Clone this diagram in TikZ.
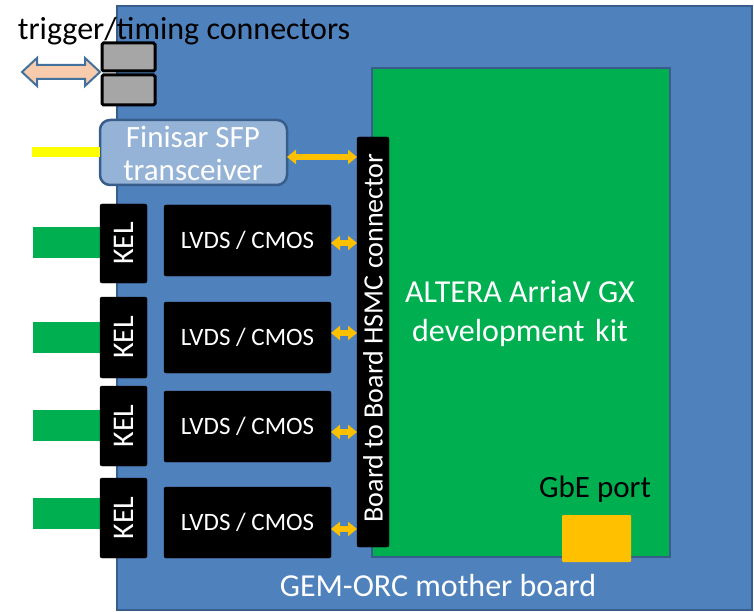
\documentclass[tikz,border=0pt]{standalone}
\usepackage{fontspec}
\setmainfont{Carlito}
\usetikzlibrary{arrows.meta,calc}
\definecolor{brdblue}{HTML}{4F81BD}
\definecolor{brdedge}{HTML}{385D8A}
\definecolor{kitgreen}{HTML}{00B050}
\definecolor{finfill}{HTML}{95B3D7}
\definecolor{peach}{HTML}{F8CBAD}
\definecolor{peachedge}{HTML}{41719C}
\definecolor{orng}{HTML}{FFC000}
\definecolor{yel}{HTML}{FFFF00}
\definecolor{gbox}{HTML}{A6A6A6}
\newcommand{\fsz}[1]{\fontsize{#1}{#1}\selectfont}
\begin{document}
\begin{tikzpicture}[x=1pt,y=-1pt,
  every node/.style={inner sep=0pt,outer sep=0pt},
  board/.style={fill=brdblue,draw=brdedge,line width=2.5pt,minimum width=635pt,minimum height=604pt},
  kit/.style={fill=kitgreen,draw=brdedge,line width=2pt,minimum width=298pt,minimum height=489pt},
  blk/.style={fill=black,draw=black,rounded corners=2pt,text=white},
  kelbox/.style={blk,minimum width=47pt,minimum height=80pt},
  lvdsbox/.style={blk,minimum width=167pt,minimum height=71pt,font=\fsz{25}},
  tab/.style={fill=kitgreen,minimum width=68pt,minimum height=31pt},
  graybox/.style={fill=gbox,draw=black,line width=3pt,rounded corners=1.5pt,minimum width=53pt},
  finbox/.style={fill=finfill,draw=brdedge,line width=2.5pt,rounded corners=10pt,minimum width=187pt,minimum height=65pt},
  oarrow/.style={draw=orng,line width=6pt,{Triangle[width=14pt,length=9pt]}-{Triangle[width=14pt,length=9pt]}},
  wtext/.style={text=white}
]
\useasboundingbox (0,0) rectangle (754,612);
% mother board
\node[board] (mb) at (434.5,308) {};
\node[wtext,font=\fsz{32}] (mbl) at (438,586) {GEM-ORC mother board};
% development kit
\node[kit] (kit) at (521,312.5) {};
\node[wtext,font=\fsz{32},align=center] (kitl) at (520,314) {ALTERA ArriaV GX\\[7pt]development\,\,kit};
\node[fill=orng,rounded corners=1pt,minimum width=69pt,minimum height=47pt] (gbe) at (596.5,538.5) {};
\node[font=\fsz{31},anchor=base] (gbel) at (595,497) {GbE port};
% HSMC connector
\node[blk,minimum width=32pt,minimum height=410pt] (hsmc) at (373,342) {};
\node[wtext,font=\fsz{28},rotate=90] (hsmcl) at (373,338) {Board to Board HSMC connector};
% trigger / timing
\node[font=\fsz{32},anchor=base] (trl) at (184,40) {trigger/timing connectors};
\node[graybox,minimum height=28pt] (g1) at (128.5,57) {};
\node[graybox,minimum height=30pt] (g2) at (128.5,90) {};
\fill[peach,draw=peachedge,line width=2pt,line join=miter]
  (22,72) -- (37,58) -- (37,65) -- (85,65) -- (85,58) -- (100,72) -- (85,86) -- (85,79) -- (37,79) -- (37,86) -- cycle;
% Finisar
\node[finbox] (fin) at (193.5,152.5) {};
\node[wtext,font=\fsz{31},align=center] (finl) at (193,153) {Finisar SFP\\[2pt]transceiver};
\coordinate (yl) at (32,152);
\draw[yel,line width=10pt] (yl) -- (yl -| fin.west);
\draw[oarrow] (fin.east |- 0,157) -- (hsmc.west |- 0,157);
% KEL / LVDS channels
\foreach \i/\ky/\kh/\ty/\ly/\ay in {1/243.5/79/242.5/240.5/243, 2/337.5/81/337.5/337.5/333, 3/426/80/425/426.5/432, 4/518/80/513.5/522.5/529}{
  \node[tab] (tab\i) at (67,\ty) {};
  \node[kelbox,minimum height=\kh pt] (kel\i) at (123.5,\ky) {};
  \node[wtext,font=\fsz{30},rotate=90] (kell\i) at (123.5,\ky) {KEL};
  \node[lvdsbox] (lv\i) at (247.5,\ly) {LVDS / CMOS};
  \draw[oarrow] (lv\i.east |- 0,\ay) -- (hsmc.west |- 0,\ay);
}
\end{tikzpicture}
\end{document}
